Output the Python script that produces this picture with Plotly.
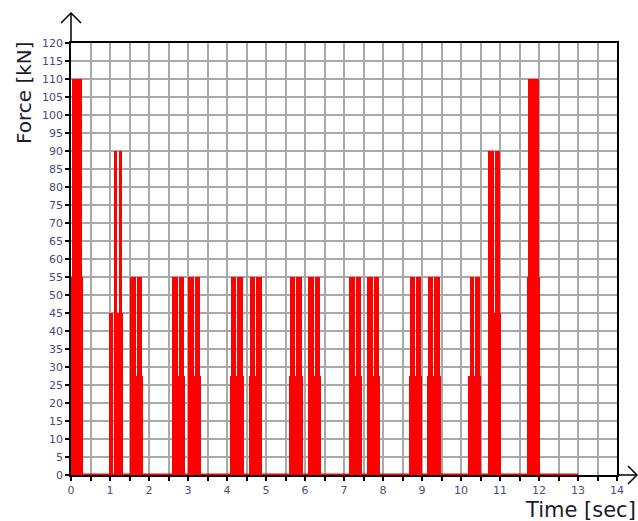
import plotly.graph_objects as go

# ---- data ----
t_start = [0.00, 0.98, 1.50, 2.59, 3.00, 4.08, 4.57, 5.60, 6.07, 7.12, 7.59, 8.67, 9.14, 10.18, 10.69, 11.69]
t_end = [0.31, 1.33, 1.85, 2.93, 3.34, 4.43, 4.91, 5.94, 6.41, 7.46, 7.93, 8.99, 9.48, 10.51, 11.03, 12.03]
peak_force = [110, 90, 55, 55, 55, 55, 55, 55, 55, 55, 55, 55, 55, 55, 90, 110]
base_force = [55, 45, 27.5, 27.5, 27.5, 27.5, 27.5, 27.5, 27.5, 27.5, 27.5, 27.5, 27.5, 27.5, 45, 55]
spike_start = [0.02, 1.09, 1.51, 2.60, 3.01, 4.09, 4.58, 5.61, 6.08, 7.13, 7.60, 8.68, 9.15, 10.22, 10.69, 11.72]
spike_end = [0.28, 1.32, 1.83, 2.89, 3.32, 4.41, 4.89, 5.92, 6.39, 7.44, 7.91, 8.97, 9.46, 10.49, 11.01, 12.01]
spike_gap = [0.0, 0.026, 0.026, 0.026, 0.026, 0.026, 0.026, 0.026, 0.026, 0.026, 0.026, 0.026, 0.026, 0.026, 0.026, 0.0]
# white slit in the lower block of the 1 s group
base_cut = [None, (1.072, 1.092)] + [None] * 14
baseline_end = 13.0

x_ticks = list(range(0, 15))
y_ticks = list(range(0, 125, 5))

RED = "#ff0000"

# lower blocks
lx, lw, ly = [], [], []
for s, e, b, cut in zip(t_start, t_end, base_force, base_cut):
    segs = [(s, e)] if cut is None else [(s, cut[0]), (cut[1], e)]
    for a, c in segs:
        lx.append((a + c) / 2)
        lw.append(c - a)
        ly.append(b)

# upper spikes
sx, sw, sy = [], [], []
for a, c, g, p in zip(spike_start, spike_end, spike_gap, peak_force):
    if g == 0:
        segs = [(a, c)]
    else:
        m = (a + c) / 2
        segs = [(a, m - g / 2), (m + g / 2, c)]
    for u, v in segs:
        sx.append((u + v) / 2)
        sw.append(v - u)
        sy.append(p)

fig = go.Figure()
fig.add_trace(go.Bar(x=sx, y=sy, width=sw, base=0, marker=dict(color=RED, line=dict(width=0)), hoverinfo="skip"))
fig.add_trace(go.Bar(x=lx, y=ly, width=lw, base=0, marker=dict(color=RED, line=dict(width=0)), hoverinfo="skip"))
fig.add_trace(go.Scatter(x=[0, baseline_end], y=[0, 0], mode="lines",
                         line=dict(color=RED, width=3), cliponaxis=False, hoverinfo="skip"))

GRID = "#a8a8a8"
tickfont = dict(family="DejaVu Sans", size=11, color="#4b4b7b")

fig.update_layout(
    width=638, height=521,
    margin=dict(l=71, r=21, t=43, b=46),
    plot_bgcolor="white", paper_bgcolor="white",
    showlegend=False, barmode="overlay", bargap=0,
    xaxis=dict(range=[0, 14], tickmode="array", tickvals=x_ticks, ticktext=[str(v) for v in x_ticks],
               ticks="outside", ticklen=4, tickwidth=1.5, tickcolor="black",
               showgrid=True, gridcolor=GRID, gridwidth=1.5,
               showline=True, linecolor="black", linewidth=1.5, mirror=True,
               zeroline=False, layer="below traces", tickfont=tickfont,
               minor=dict(dtick=0.5, tick0=0, ticks="outside", ticklen=4, tickwidth=1.5, tickcolor="black",
                          showgrid=True, gridcolor=GRID, gridwidth=1.5)),
    yaxis=dict(range=[0, 120], tickmode="array", tickvals=y_ticks, ticktext=[str(v) for v in y_ticks],
               ticks="outside", ticklen=4, tickwidth=1.5, tickcolor="black",
               showgrid=True, gridcolor=GRID, gridwidth=1.5,
               showline=True, linecolor="black", linewidth=1.5, mirror=True,
               zeroline=False, layer="below traces", tickfont=tickfont),
)

L, T, W, H = 71, 43, 546, 432
def xp(px):
    return (px - L) / W
def yp(py):
    return (T + H - py) / H

line = dict(color="black", width=1.5)
fig.add_shape(type="line", xref="paper", yref="paper", x0=0, y0=1, x1=0, y1=yp(13), line=line)
fig.add_shape(type="path", xref="paper", yref="paper",
              path=f"M {xp(61)} {yp(23)} L 0 {yp(13)} L {xp(81)} {yp(23)}", line=line)
fig.add_shape(type="line", xref="paper", yref="paper", x0=1, y0=0, x1=xp(637), y1=0, line=line)
fig.add_shape(type="path", xref="paper", yref="paper",
              path=f"M {xp(628)} {yp(466)} L {xp(637)} 0 L {xp(628)} {yp(484)}", line=line)

fig.add_annotation(text="Force [kN]", xref="paper", yref="paper", x=xp(24), y=yp(93),
                   textangle=-90, showarrow=False, xanchor="center", yanchor="middle",
                   font=dict(family="DejaVu Sans", size=20, color="#1c1c30"))
fig.add_annotation(text="Time [sec]", xref="paper", yref="paper", x=xp(638), y=yp(510),
                   showarrow=False, xanchor="right", yanchor="middle",
                   font=dict(family="DejaVu Sans", size=21, color="#1c1c30"))

fig.write_html("out.html")
